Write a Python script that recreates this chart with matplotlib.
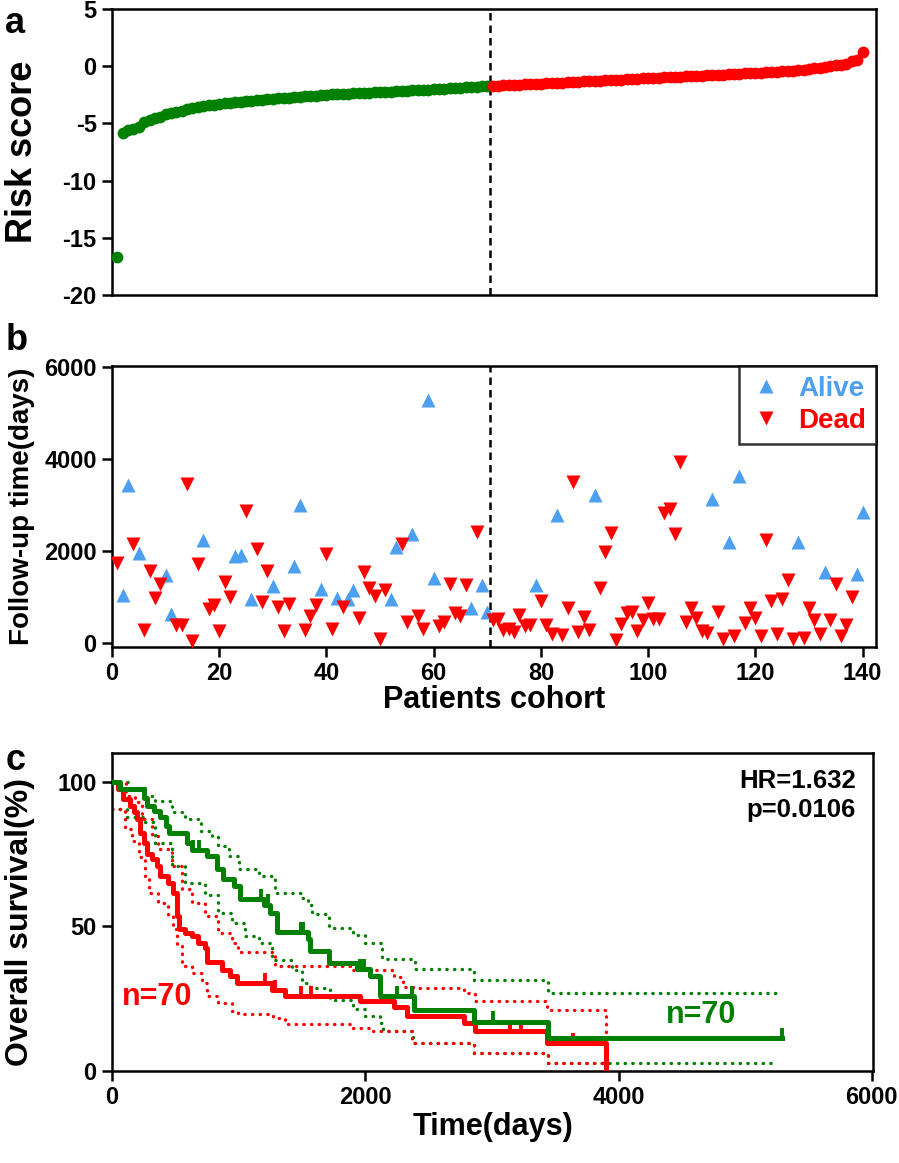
import numpy as np
import matplotlib
matplotlib.use('Agg')
import matplotlib.pyplot as plt

plt.rcParams['font.family'] = ['Liberation Sans', 'DejaVu Sans']
plt.rcParams['axes.unicode_minus'] = False

GREEN = '#008000'
RED = '#FF0000'
BLUE = '#4DA0F0'

# ---- panel a: sorted risk scores (patients 1..140)
risk_low = [-16.7, -5.8, -5.6, -5.5, -5.3, -4.9, -4.7, -4.55, -4.4, -4.2,
            -4.1, -4.0, -3.9, -3.75, -3.65, -3.6, -3.5, -3.4, -3.35, -3.3,
            -3.25, -3.2, -3.15, -3.1, -3.05, -3.0, -2.97, -2.93, -2.9, -2.86,
            -2.82, -2.78, -2.74, -2.7, -2.67, -2.63, -2.6, -2.57, -2.53, -2.5,
            -2.47, -2.45, -2.42, -2.4, -2.38, -2.36, -2.34, -2.31, -2.29, -2.27,
            -2.25, -2.22, -2.2, -2.18, -2.15, -2.12, -2.1, -2.07, -2.05, -2.03,
            -2.0, -1.97, -1.95, -1.92, -1.89, -1.86, -1.83, -1.8, -1.77, -1.74]
risk_high = [-1.72, -1.7, -1.68, -1.65, -1.63, -1.61, -1.59, -1.57, -1.55, -1.52,
             -1.5, -1.48, -1.46, -1.43, -1.41, -1.39, -1.36, -1.33, -1.31, -1.29,
             -1.27, -1.24, -1.22, -1.19, -1.17, -1.15, -1.12, -1.1, -1.07, -1.05,
             -1.02, -1.0, -0.98, -0.95, -0.93, -0.91, -0.89, -0.87, -0.85, -0.82,
             -0.8, -0.78, -0.75, -0.73, -0.71, -0.68, -0.66, -0.63, -0.61, -0.58,
             -0.56, -0.53, -0.5, -0.47, -0.45, -0.42, -0.39, -0.35, -0.31, -0.27,
             -0.2, -0.13, -0.06, 0.0, 0.06, 0.12, 0.2, 0.48, 0.55, 1.2]

# ---- panel b: follow-up time and status (1 = dead, 0 = alive)
followup = [1740, 1040, 3430, 2150, 1960, 280, 1570, 980, 1280, 1480,
            630, 390, 390, 3460, 30, 1720, 2240, 740, 830, 250,
            1330, 990, 1890, 1910, 2870, 950, 2040, 880, 1570, 1240,
            790, 260, 850, 1680, 3000, 270, 590, 830, 1170, 1940,
            300, 970, 780, 950, 1140, 550, 1550, 1190, 1010, 80,
            1150, 950, 2080, 2150, 450, 2370, 590, 300, 5280, 1410,
            360, 450, 1280, 650, 590, 1250, 750, 2410, 1260, 680,
            500, 510, 280, 300, 230, 610, 360, 380, 1250, 900,
            380, 200, 2770, 170, 750, 3490, 230, 560, 270, 3220,
            1200, 1970, 2380, 70, 410, 650, 680, 250, 500, 860,
            510, 510, 2820, 2910, 2370, 3940, 460, 750, 540, 250,
            210, 3120, 670, 80, 2200, 140, 3630, 440, 750, 540,
            140, 2240, 900, 200, 950, 1370, 80, 2200, 100, 750,
            490, 200, 1550, 490, 1280, 140, 380, 990, 1500, 2840]
status = [1, 0, 0, 1, 0, 1, 1, 1, 1, 0,
          0, 1, 1, 1, 1, 1, 0, 1, 1, 1,
          1, 1, 0, 0, 1, 0, 1, 1, 1, 0,
          1, 1, 1, 0, 0, 1, 1, 1, 0, 1,
          1, 0, 1, 0, 0, 1, 1, 1, 1, 1,
          1, 0, 0, 1, 1, 0, 1, 1, 0, 0,
          1, 1, 1, 1, 1, 1, 0, 1, 0, 0,
          1, 1, 1, 1, 1, 1, 1, 1, 0, 1,
          1, 1, 0, 1, 1, 1, 1, 1, 1, 0,
          1, 1, 1, 1, 1, 1, 1, 1, 1, 1,
          1, 1, 1, 1, 1, 1, 1, 1, 1, 1,
          1, 0, 1, 1, 0, 1, 0, 1, 1, 1,
          1, 1, 1, 1, 1, 1, 1, 0, 1, 1,
          1, 1, 0, 1, 1, 1, 1, 1, 0, 0]

# ---- panel c: Kaplan-Meier curves (step points), CI bands, censor times
g_t = [0, 60, 250, 275, 330, 380, 430, 450, 590, 630, 750, 830, 880, 960, 1010,
       1200, 1250, 1300, 1550, 1565, 1710, 1935, 2040, 2120, 2385, 2855, 3440, 5290]
g_s = [100, 97.6, 94.3, 91.8, 90.0, 88.0, 84.8, 82.5, 79.0, 76.5, 74.4, 69.8, 66.3, 64.0, 59.4,
       57.6, 54.7, 48.0, 45.5, 41.4, 37.4, 35.3, 32.8, 25.8, 21.2, 17.1, 11.3, 11.3]
r_t = [0, 50, 90, 140, 170, 195, 220, 250, 275, 315, 355, 380, 445, 485, 510, 530,
       580, 630, 680, 735, 750, 865, 935, 985, 1265, 1370, 1960, 2225, 2330, 2780,
       2870, 3436, 3905]
r_s = [100, 97.6, 94.1, 91.8, 89.5, 87.2, 82.5, 79.0, 75.0, 73.3, 71.0, 67.5, 65.2, 61.7, 53.6, 49.0,
       47.8, 46.6, 44.3, 42.6, 37.6, 35.0, 32.7, 30.4, 28.1, 25.8, 24.1, 22.3, 18.9, 16.6,
       13.7, 9.6, 0]
g_cens = [600, 640, 690, 1180, 1230, 1490, 1510, 1960, 1990, 2250, 2370, 3005, 5290]
r_cens = [1210, 1290, 1490, 1570, 3146, 3230, 3642]

gh_t = [0, 130, 260, 340, 470, 580, 700, 790, 840, 920, 1000, 1160, 1290, 1490, 1550,
        1580, 1710, 1900, 2000, 2130, 2390, 2860, 3440, 5260]
gh_s = [100, 98, 95.2, 93.5, 89.5, 87.2, 83.0, 81.4, 77.9, 74.4, 69.8, 67.5, 61.7, 60.0, 57.3,
        54.2, 49.5, 47.0, 44.3, 38.9, 35.4, 31.6, 27.0, 27.0]
gl_t = [0, 120, 260, 340, 470, 580, 735, 840, 946, 1050, 1160, 1260, 1420, 1500, 1560,
        1720, 1900, 2000, 2120, 2140, 2380, 2860, 3440, 5260]
gl_s = [90.6, 88.0, 86.0, 79.0, 71.0, 65.2, 60.8, 54.7, 51.3, 46.6, 44.3, 38.5, 35.0, 30.4, 28.7,
        24.7, 21.5, 18.9, 16.6, 13.7, 9.8, 6.4, 2.9, 2.9]
rh_t = [0, 110, 180, 235, 315, 365, 470, 550, 630, 735, 840, 945, 995, 1290, 1900,
        2225, 2300, 2380, 2780, 2870, 3436, 3905, 3905]
rh_s = [100, 95.2, 93.0, 87.2, 81.4, 76.7, 71.0, 62.8, 58.2, 53.6, 47.9, 44.3, 41.0, 36.5, 35.0,
        32.4, 29.0, 28.7, 27.0, 24.1, 21.2, 21.2, 0]
rl_t = [0, 100, 155, 210, 260, 290, 365, 445, 485, 510, 550, 630, 710, 750, 840,
        946, 995, 1270, 1370, 1900, 2050, 2150, 2370, 2860, 3440, 3905]
rl_s = [90.6, 83.7, 79.6, 73.9, 67.5, 61.7, 58.2, 53.6, 49.0, 43.2, 36.3, 33.9, 30.4, 25.8, 23.5,
        20.6, 19.8, 18.3, 16.2, 15.0, 14.0, 13.7, 9.8, 6.4, 2.7, 2.7]


def surv_at(times, surv, t):
    i = np.searchsorted(times, t, side='right') - 1
    return surv[i]


def style_axes(ax):
    for sp in ax.spines.values():
        sp.set_linewidth(1.8)
    ax.tick_params(direction='out', length=7, width=1.8, labelsize=17, pad=4)
    for lb in ax.get_xticklabels() + ax.get_yticklabels():
        lb.set_fontweight('bold')


fig = plt.figure(figsize=(8.99, 11.63), dpi=100)

# panel a
ax1 = fig.add_axes([0.1246, 0.7463, 0.8498, 0.246])
n_low = len(risk_low)
x_low = np.arange(1, n_low + 1)
x_high = np.arange(n_low + 1, n_low + len(risk_high) + 1)
ax1.scatter(x_low, risk_low, s=72, color=GREEN, zorder=3, linewidths=0)
ax1.scatter(x_high, risk_high, s=72, color=RED, zorder=3, linewidths=0)
ax1.axvline(n_low + 0.5, color='black', ls=(0, (3, 2)), lw=1.8)
ax1.set_xlim(0, 142.5)
ax1.set_ylim(-20, 5)
ax1.set_yticks([-20, -15, -10, -5, 0, 5])
ax1.set_xticks([])
style_axes(ax1)
ax1.set_ylabel('Risk score', fontsize=26, fontweight='bold')
ax1.yaxis.set_label_coords(-0.094, 0.5)

# panel b
ax2 = fig.add_axes([0.1246, 0.4437, 0.8498, 0.2416])
pid = np.arange(1, len(followup) + 1)
fu = np.array(followup)
st = np.array(status)
ax2.plot(pid[st == 0], fu[st == 0], ls='none', marker='^', ms=9.5, color=BLUE,
         mec='none', label='Alive', zorder=3)
ax2.plot(pid[st == 1], fu[st == 1], ls='none', marker='v', ms=9.5, color=RED,
         mec='none', label='Dead', zorder=3)
ax2.axvline(n_low + 0.5, color='black', ls=(0, (3, 2)), lw=1.8)
ax2.set_xlim(0, 142.5)
ax2.set_ylim(-90, 6020)
ax2.set_xticks(range(0, 141, 20))
ax2.set_yticks([0, 2000, 4000, 6000])
style_axes(ax2)
ax2.set_ylabel('Follow-up time(days)', fontsize=20, fontweight='bold')
ax2.yaxis.set_label_coords(-0.101, 0.5)
ax2.set_xlabel('Patients cohort', fontsize=22, fontweight='bold', labelpad=0)
leg = ax2.legend(loc='upper right', frameon=True, fancybox=False, edgecolor='black',
                 borderaxespad=0, prop={'size': 20, 'weight': 'bold'},
                 handletextpad=0.5, borderpad=0.35, labelspacing=0.22, handlelength=1.3)
leg.get_frame().set_linewidth(1.8)
for txt, c in zip(leg.get_texts(), [BLUE, RED]):
    txt.set_color(c)

# panel c
ax3 = fig.add_axes([0.1246, 0.0791, 0.8465, 0.2734])
dot = (0, (0.1, 2.2))
for tt, ss, c in [(gh_t, gh_s, GREEN), (gl_t, gl_s, GREEN), (rh_t, rh_s, RED), (rl_t, rl_s, RED)]:
    ax3.step(tt, ss, where='post', color=c, ls=dot, lw=2.4, dash_capstyle='round')
ax3.step(g_t, g_s, where='post', color=GREEN, lw=3.6, zorder=4)
ax3.step(r_t, r_s, where='post', color=RED, lw=3.6, zorder=3)
for t in g_cens:
    y = surv_at(g_t, g_s, t)
    ax3.vlines(t, y, y + 3.5, color=GREEN, lw=2.8, zorder=4)
for t in r_cens:
    y = surv_at(r_t, r_s, t)
    ax3.vlines(t, y, y + 3.5, color=RED, lw=2.8, zorder=3)
ax3.set_xlim(0, 6010)
ax3.set_ylim(0, 110)
ax3.set_xticks([0, 2000, 4000, 6000])
ax3.set_yticks([0, 50, 100])
style_axes(ax3)
ax3.set_ylabel('Overall survival(%)', fontsize=23, fontweight='bold')
ax3.yaxis.set_label_coords(-0.101, 0.47)
ax3.set_xlabel('Time(days)', fontsize=22, fontweight='bold', labelpad=2)
ax3.text(0.977, 0.95, 'HR=1.632\np=0.0106', transform=ax3.transAxes, ha='right', va='top',
         fontsize=18.5, fontweight='bold', linespacing=1.25)
ax3.text(353, 25.7, 'n=70', color=RED, fontsize=22, fontweight='bold', ha='center', va='center')
ax3.text(4650, 19.4, 'n=70', color=GREEN, fontsize=22, fontweight='bold', ha='center', va='center')

# panel letters
fig.text(0.006, 0.995, 'a', fontsize=26, fontweight='bold', va='top')
fig.text(0.006, 0.722, 'b', fontsize=26, fontweight='bold', va='top')
fig.text(0.006, 0.361, 'c', fontsize=26, fontweight='bold', va='top')

fig.savefig('out.png', dpi=100)
